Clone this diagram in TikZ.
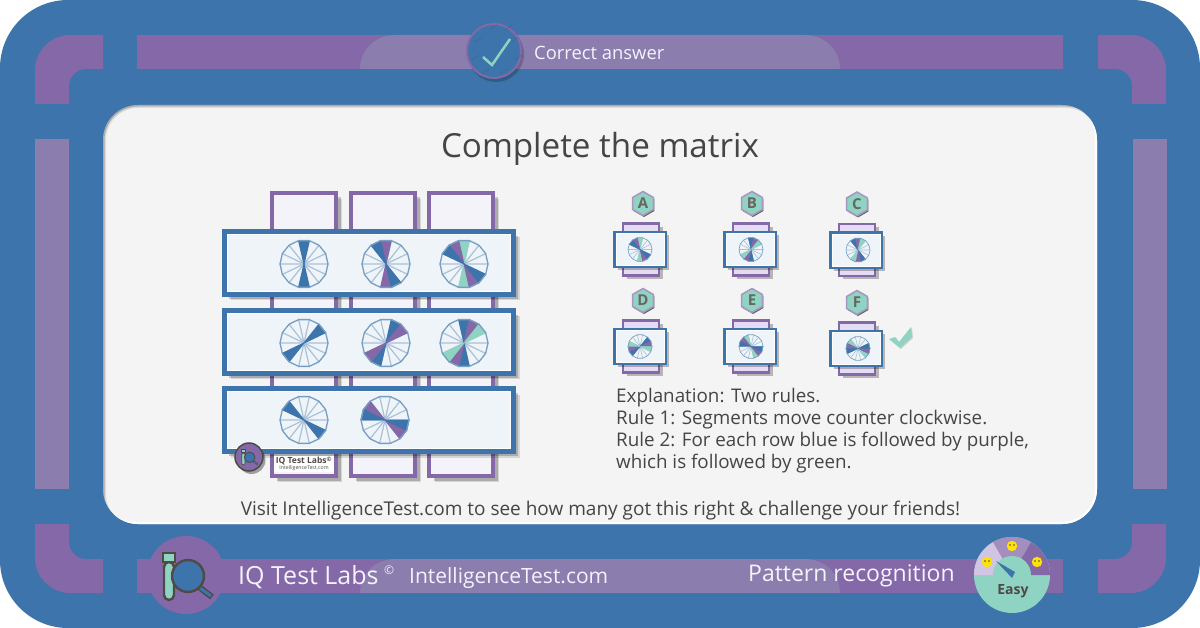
\documentclass[tikz,border=0pt]{standalone}
\usepackage{fontspec}
\setmainfont{Open Sans}
\usetikzlibrary{shapes.geometric,shadows}

\definecolor{iqblue}{HTML}{3D74AB}
\definecolor{iqpurple}{HTML}{8468A8}
\definecolor{iqmauve}{HTML}{8B7DAE}
\definecolor{iqgreen}{HTML}{8FD3C3}
\definecolor{iqdark}{HTML}{4F4A45}
\definecolor{iqtext}{HTML}{454545}
\definecolor{iqpaper}{HTML}{F4F4F4}
\definecolor{iqice}{HTML}{EFF4F8}
\definecolor{iqlilac}{HTML}{F5F3FA}
\definecolor{iqviolet}{HTML}{E4DCF2}

\tikzset{
  softshadow/.style={drop shadow={shadow xshift=6pt,shadow yshift=-6pt,fill=black,opacity=0.12},
    drop shadow={shadow xshift=4.5pt,shadow yshift=-4.5pt,fill=black,opacity=0.2}},
  smallshadow/.style={drop shadow={shadow xshift=3.5pt,shadow yshift=-3.5pt,fill=black,opacity=0.25}},
  rowpanel/.style={draw=iqblue,line width=5pt,fill=iqice,softshadow},
  tallcard/.style={draw=iqpurple,line width=4pt,fill=iqlilac,softshadow},
  optpanel/.style={draw=iqblue,line width=2.5pt,fill=iqice,smallshadow},
  optcard/.style={draw=iqpurple,line width=2.5pt,fill=iqviolet,smallshadow},
  badge/.style={regular polygon,regular polygon sides=6,shape border rotate=30,minimum size=24pt,inner sep=0pt,
    fill=iqgreen,draw=iqpurple!70!white,line width=1.5pt,text=iqdark!85!white,font=\fontsize{15}{15}\selectfont\bfseries,
    drop shadow={shadow xshift=1pt,shadow yshift=-1.5pt,fill=black,opacity=0.6}},
  label/.style={text=iqtext,inner sep=0pt},
  barlabel/.style={text=iqlilac,inner sep=0pt,anchor=west}
}

% wheel: x, y, radius, list of segment/colour
\newcommand{\wheel}[4]{%
  \begin{scope}[shift={(#1,#2)}]
    \foreach \k in {0,...,13} \draw[iqblue!45!white,line width=#3*0.05pt] (0,0) -- ({77.14+\k*25.714}:#3pt);
    \foreach \k/\col in {#4} \filldraw[fill=\col,draw=\col,line width=#3*0.04pt] (0,0) -- ({77.14+\k*25.714}:#3pt) -- ({102.86+\k*25.714}:#3pt) -- cycle;
    \draw[iqblue!70!white,line width=#3*0.055pt] (77.14:#3pt) \foreach \k in {1,...,13} { -- ({77.14+\k*25.714}:#3pt)} -- cycle;
  \end{scope}}

% option: letter, x, y, badge x, wheel x, segments
\newcommand{\optioncard}[6]{%
  \draw[optcard] (#2-17,#3-26) rectangle (#2+19,#3+26);
  \draw[optpanel] (#2-25.5,#3-17.5) rectangle (#2+25.5,#3+17.5);
  \draw[white,line width=0.6pt] (#2-24,#3-16) rectangle (#2+24,#3+16);
  \node[badge] (badge#1) at (#4,#3-46) {#1};
  \wheel{#5}{#3}{12}{#6}}

% logo: x, y, scale
\newcommand{\iqlogo}[3]{%
  \begin{scope}[shift={(#1,#2)},scale=#3]
    \filldraw[fill=iqgreen,draw=iqdark,line width=#3*2.4pt,rounded corners=#3*5pt] (-22,-13) -- (-22,25) -- (-12,25) -- (-12,-13) -- cycle;
    \filldraw[fill=iqgreen,draw=iqdark,line width=#3*2.4pt] (-23,-22) rectangle (-11,-13);
    \draw[iqdark,line width=#3*6pt] (13,12) -- (26,22);
    \draw[iqblue,line width=#3*3pt] (14,13) -- (25,21);
    \filldraw[fill=iqblue,draw=iqdark,line width=#3*2.4pt] (2,1) circle (16);
  \end{scope}}

\begin{document}
\begin{tikzpicture}[x=1pt,y=-1pt]
  \useasboundingbox (0,0) rectangle (1200,628);

  % Frame
  \fill[white] (0,0) rectangle (1200,628);
  \fill[iqblue,rounded corners=68pt] (0,0) rectangle (1200,628);

  % Corners
  \foreach \ox/\oy/\sx/\sy in {0/0/1/1,1201/0/-1/1,0/628/1/-1,1201/628/-1/-1}
    \fill[iqpurple,shift={(\ox,\oy)},xscale=\sx,yscale=\sy] (35,104) -- (35,70) .. controls (35,51) and (51,35) .. (70,35) -- (103,35) -- (103,69) -- (86,69) .. controls (76.6,69) and (69,76.6) .. (69,86) -- (69,104) -- cycle;

  % Bars
  \fill[iqpurple] (137,35) rectangle (1063,69);
  \fill[iqpurple] (137,559) rectangle (1063,593);
  \fill[iqmauve] (35,139) rectangle (69,489);
  \fill[iqmauve] (1133,139) rectangle (1167,489);
  \fill[iqmauve] (360,69) .. controls (360,50) and (375,35) .. (395,35) -- (805,35) .. controls (825,35) and (840,50) .. (840,69) -- cycle;
  \fill[iqmauve] (360,593) .. controls (360,574) and (375,559) .. (395,559) -- (805,559) .. controls (825,559) and (840,574) .. (840,593) -- cycle;

  % Top badge
  \fill[black,opacity=0.2] (496,54) circle (28);
  \filldraw[fill=iqblue,draw=iqpurple,line width=2pt] (494,51) circle (27);
  \foreach \hx/\hy in {490/30,505/30,475/42,512/42,472/60,515/60,482/74,500/74}
    \draw[iqdark!60!iqblue,line width=0.5pt,opacity=0.6] (\hx,\hy) -- (\hx+7,\hy-5);
  \draw[iqgreen,line width=2.5pt] (483,57) -- (492,65) -- (510,39);
  \node[barlabel,font=\fontsize{18.4}{20}\selectfont] (answer) at (534,53) {Correct answer};

  % Paper
  \fill[iqpaper,rounded corners=35pt] (103,105) rectangle (1097,524);
  \begin{scope}
    \clip[rounded corners=35pt] (103,105) rectangle (1097,524);
    \draw[white,line width=3pt,rounded corners=35pt] (100,102) rectangle (1096.5,523.5);
    \draw[black,opacity=0.1,line width=6pt,rounded corners=35pt] (103,105) rectangle (1101,529);
    \draw[black,opacity=0.22,line width=3pt,rounded corners=35pt] (103,105) rectangle (1101,529);
  \end{scope}
  \node[label,font=\fontsize{33.2}{38}\selectfont] (title) at (600,149) {Complete the matrix};

  % Matrix
  \foreach \cx in {272,351,429}
    \draw[tallcard] (\cx,193) rectangle (\cx+64,476);
  \foreach \py in {229,308,386} {
    \draw[rowpanel] (224.5,\py+2.5) rectangle (513.5,\py+65.5);
    \draw[white,line width=0.8pt] (227.5,\py+5.5) rectangle (510.5,\py+62.5);
  }
  \wheel{304}{264}{24}{0/iqblue,7/iqblue}
  \wheel{386}{264}{24}{0/iqpurple,1/iqblue,7/iqpurple,8/iqblue}
  \wheel{464}{264}{24}{0/iqgreen,1/iqpurple,2/iqblue,7/iqgreen,8/iqpurple,9/iqblue}
  \wheel{304}{343}{24}{12/iqblue,5/iqblue}
  \wheel{386}{343}{24}{13/iqblue,12/iqpurple,6/iqblue,5/iqpurple}
  \wheel{464}{343}{24}{0/iqblue,13/iqpurple,12/iqgreen,7/iqblue,6/iqpurple,5/iqgreen}
  \wheel{304}{420}{24}{2/iqblue,9/iqblue}
  \wheel{385}{420}{24}{2/iqpurple,3/iqblue,9/iqpurple,10/iqblue}

  % Small logo
  \fill[white] (274,456) rectangle (334,472);
  \node[text=iqdark,inner sep=0pt,font=\fontsize{8.5}{8}\selectfont\bfseries] (smalllabs) at (304,461) {IQ Test Labs\textsuperscript{©}};
  \node[text=iqdark,inner sep=0pt,font=\fontsize{5.2}{6}\selectfont] (smallsite) at (304,468.5) {IntelligenceTest.com};
  \filldraw[fill=iqpurple,draw=iqdark,line width=1.5pt,drop shadow={shadow xshift=2.5pt,shadow yshift=-3pt,fill=black,opacity=0.35}] (249,457) circle (14);
  \iqlogo{249}{457}{0.33}

  % Options
  \optioncard{A}{640}{249.5}{643}{640}{0/iqgreen,1/iqpurple,2/iqblue,7/iqgreen,8/iqpurple,9/iqblue}
  \optioncard{B}{750}{249.5}{752}{751}{0/iqblue,13/iqpurple,12/iqgreen,7/iqblue,6/iqpurple,5/iqgreen}
  \optioncard{C}{856}{250}{857}{858}{1/iqblue,0/iqpurple,13/iqgreen,8/iqblue,7/iqpurple,6/iqgreen}
  \optioncard{D}{640}{346.5}{643}{640}{12/iqblue,11/iqpurple,10/iqgreen,5/iqblue,4/iqpurple,3/iqgreen}
  \optioncard{E}{750}{346.5}{752}{751}{1/iqgreen,2/iqpurple,3/iqblue,8/iqgreen,9/iqpurple,10/iqblue}
  \optioncard{F}{856}{348.5}{857}{858}{2/iqgreen,3/iqpurple,4/iqblue,9/iqgreen,10/iqpurple,11/iqblue}

  % Tick
  \fill[iqgreen,drop shadow={shadow xshift=1pt,shadow yshift=-1pt,fill=black,opacity=0.15}] (889,339) -- (895,337) -- (899,342) -- (911,327) -- (912,337) -- (900,348) -- cycle;

  % Explanation
  \node[label,anchor=north west,align=left,font=\fontsize{18.8}{22}\selectfont] (explain) at (616,388) {Explanation: Two rules.\\Rule 1: Segments move counter clockwise.\\Rule 2: For each row blue is followed by purple,\\which is followed by green.};
  \node[label,font=\fontsize{19}{22}\selectfont] (visit) at (600.5,511) {Visit IntelligenceTest.com to see how many got this right \& challenge your friends!};

  % Bottom logo
  \fill[iqpurple] (186,575) circle (39);
  \iqlogo{186}{575}{1}
  \node[barlabel,font=\fontsize{25}{28}\selectfont] (labs) at (238,577) {IQ Test Labs};
  \node[barlabel,font=\fontsize{12}{14}\selectfont] (copy) at (384,570) {©};
  \node[barlabel,font=\fontsize{21}{24}\selectfont] (site) at (409,578) {IntelligenceTest.com};
  \node[barlabel,font=\fontsize{23}{26}\selectfont] (pattern) at (748,576) {Pattern recognition};

  % Gauge
  \fill[iqgreen] (1012,575) circle (38);
  \fill[iqviolet!80!iqpurple] (1012,575) -- ++(180:38pt) arc[start angle=180,end angle=120,radius=38pt] -- cycle;
  \fill[iqpurple!75!white] (1012,575) -- ++(120:38pt) arc[start angle=120,end angle=60,radius=38pt] -- cycle;
  \fill[iqpurple] (1012,575) -- ++(60:38pt) arc[start angle=60,end angle=0,radius=38pt] -- cycle;
  \fill[iqgreen] (1012,575) circle (19);
  \fill[iqblue] (996,561) -- (1015,572) -- (1012,578) -- cycle;
  \foreach \ex/\ey in {987/562,1012/546,1037/562} {
    \fill[yellow!85!orange] (\ex,\ey) circle (5.2);
    \fill[iqdark] (\ex-2,\ey-1) circle (0.8) (\ex+2,\ey-1) circle (0.8);
  }
  \node[text=iqdark,inner sep=0pt,font=\fontsize{14}{16}\selectfont\bfseries] (easy) at (1013,591) {Easy};
\end{tikzpicture}
\end{document}
